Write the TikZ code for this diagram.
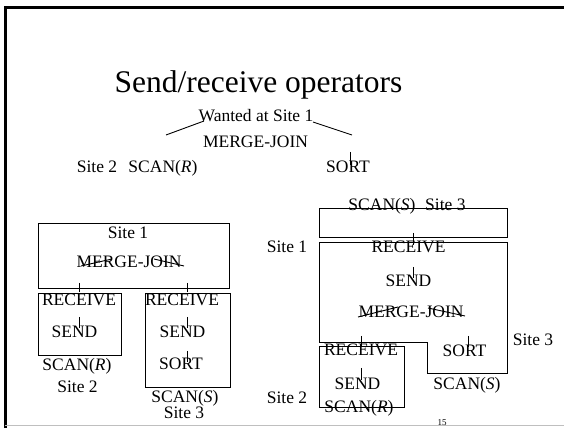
\documentclass[tikz,border=0pt]{standalone}
\usepackage{fontspec}
\setmainfont{Liberation Serif}
\usetikzlibrary{positioning}

\begin{document}
\begin{tikzpicture}[x=1pt, y=-1pt,
    op/.style={inner sep=0, anchor=base, font=\fontsize{17.5}{20}\selectfont},
    sitebox/.style={draw, line width=1pt, inner sep=0},
    edge/.style={line width=0.9pt}
]
\useasboundingbox (0,0) rectangle (564,428);
% slide frame
\draw[line width=3pt] (5.5,428) -- (5.5,7.5) -- (564,7.5);
\draw[black!25, line width=1pt] (5,425.5) -- (564,425.5);

\node[inner sep=0, anchor=base, font=\fontsize{31.5}{34}\selectfont] (title) at (258.5,92) {Send/receive operators};

% plan as wanted
\node[op] (want) at (256,121) {Wanted at Site 1};
\node[op] (mj0) at (255.5,147) {MERGE-JOIN};
\node[op] (site2a) at (97,172) {Site 2};
\node[op] (scanR0) at (163,172) {SCAN(\textit{R})};
\node[op] (sort0) at (348,172) {SORT};
\draw[edge] (mj0.base) ++(-89.5,-12) -- ++(38,-14);
\draw[edge] (mj0.base) ++(57.5,-25) -- ++(39,13);
\draw[edge] (sort0.north) ++(2,-8.4) -- ++(0,13);

% left plan
\node[sitebox, minimum width=191pt, minimum height=65pt] (boxA) at (133.5,255.5) {};
\node[sitebox, minimum width=83pt, minimum height=62pt] (boxB) at (79.5,324) {};
\node[sitebox, minimum width=85pt, minimum height=94pt] (boxC) at (187.5,340) {};
\node[op] (site1A) at (128,238) {Site 1};
\node[op] (mjA) at (129,267) {MERGE-JOIN};
\node[op] (recvB) at (79,305) {RECEIVE};
\node[op] (sendB) at (74.5,337) {SEND};
\node[op] (scanRB) at (77,370) {SCAN(\textit{R})};
\node[op] (site2B) at (77.5,392) {Site 2};
\node[op] (recvC) at (182,305) {RECEIVE};
\node[op] (sendC) at (182.5,337) {SEND};
\node[op] (sortC) at (181,369) {SORT};
\node[op] (scanSC) at (185,402) {SCAN(\textit{S})};
\node[op] (site3C) at (184,418) {Site 3};
\draw[edge] (mjA.base) ++(-48,-1) -- ++(31,-7);
\draw[edge] (mjA.base) ++(25,-8) -- ++(30,7);
\draw[edge] (recvB.north) ++(0,-10.4) -- ++(0,9);
\draw[edge] (recvC.north) ++(5,-10.4) -- ++(0,9);
\draw[edge] (sendB.north) ++(4.5,-8.4) -- ++(0,11);
\draw[edge] (sendC.north) ++(4.5,-8.4) -- ++(0,11);
\draw[edge] (sortC.north) ++(6,-6.4) -- ++(0,11);

% right plan
\node[sitebox, minimum width=188pt, minimum height=29pt] (box1) at (413,222.5) {};
\draw[line width=1pt] (319,242) -- (507,242) -- (507,373) -- (427,373) -- (427,342) -- (319,342) -- cycle;
\node[sitebox, minimum width=85pt, minimum height=61pt] (box3) at (361.5,376.5) {};
\node[op] (scanS1) at (407,210) {SCAN(\textit{S})\hspace{0.55em}Site 3};
\node[op] (site1R) at (287,252) {Site 1};
\node[op] (recvR) at (408.5,252) {RECEIVE};
\node[op] (sendR) at (408.5,286) {SEND};
\node[op] (mjR) at (411,317) {MERGE-JOIN};
\node[op] (recvL) at (361,355) {RECEIVE};
\node[op] (sortR) at (464.5,356) {SORT};
\node[op] (sendL) at (357.5,389) {SEND};
\node[op] (scanSR) at (467,389) {SCAN(\textit{S})};
\node[op] (scanRL) at (359,412) {SCAN(\textit{R})};
\node[op] (site3R) at (533,345) {Site 3};
\node[op] (site2R) at (287,403) {Site 2};
\draw[edge] (mjR.base) ++(-53,0) -- ++(40,-10);
\draw[edge] (mjR.base) ++(17,-9) -- ++(37,8);
\draw[edge] (recvR.north) ++(4.5,-7.4) -- ++(0,12);
\draw[edge] (sendR.north) ++(4.5,-7.4) -- ++(0,11);
\draw[edge] (recvL.north) ++(0,-7.4) -- ++(0,11);
\draw[edge] (sortR.north) ++(3.5,-8.4) -- ++(0,11);
\draw[edge] (sendL.north) ++(3.5,-9.4) -- ++(0,12);

\node[inner sep=0, anchor=base, font=\fontsize{9}{10}\selectfont] (pageno) at (442,425) {15};
\end{tikzpicture}
\end{document}
